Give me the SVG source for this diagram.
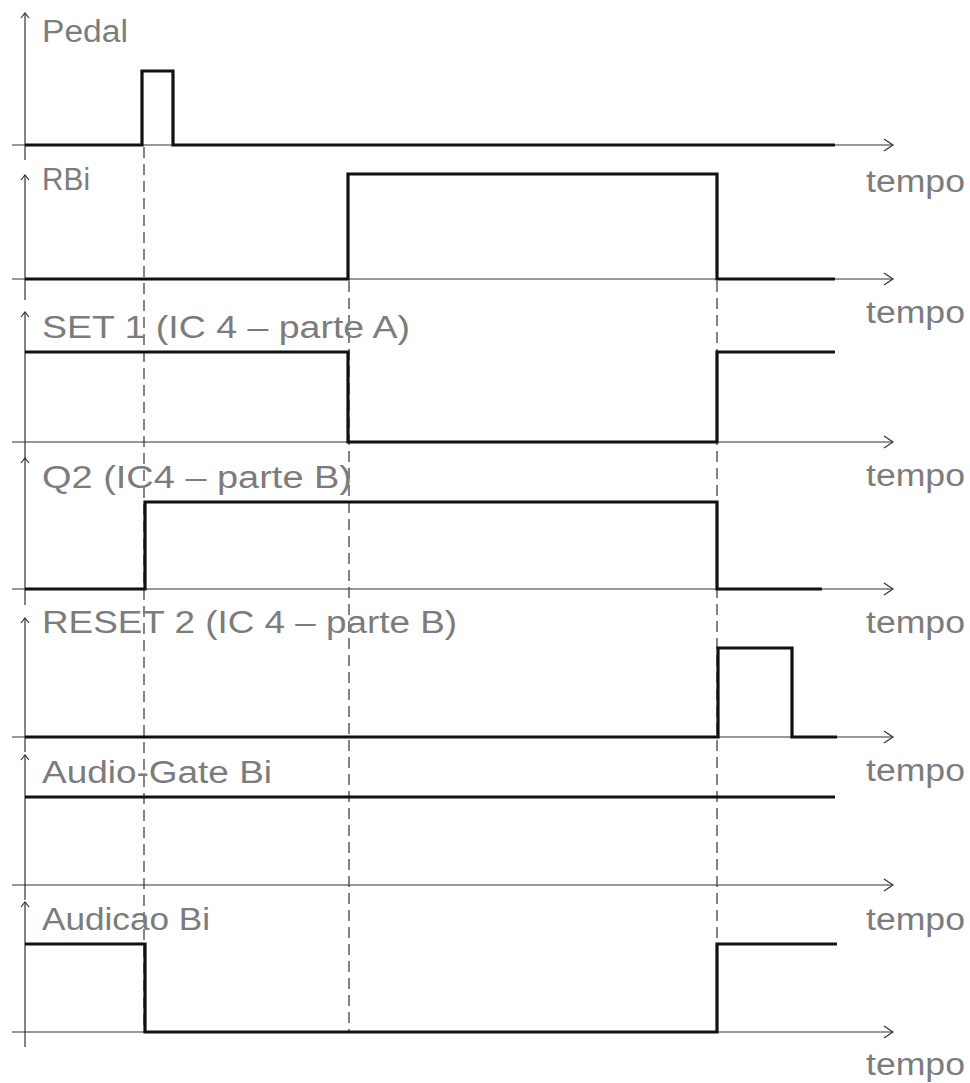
<svg xmlns="http://www.w3.org/2000/svg" width="970" height="1083" viewBox="0 0 970 1083">
<style>
.lbl{font-family:"Liberation Sans",Arial,sans-serif;font-size:31px;fill:#7c7c7c;}
.tm{font-family:"Liberation Sans",Arial,sans-serif;font-size:31px;fill:#7c7c7c;}
.ax{stroke:#333;stroke-width:1.2;fill:none;}
.sig{stroke:#111;stroke-width:3.2;fill:none;stroke-linejoin:miter;}
.dash{stroke:#333;stroke-width:1.2;stroke-dasharray:11 6;fill:none;}
</style>
<defs>
<marker id="ah" markerWidth="12" markerHeight="14" refX="10" refY="7" orient="auto" markerUnits="userSpaceOnUse">
<path d="M1,1 L10,7 L1,13" fill="none" stroke="#333" stroke-width="1.2"/>
</marker>
<marker id="av" markerWidth="10" markerHeight="8" refX="5" refY="1" orient="0" markerUnits="userSpaceOnUse">
<path d="M1,6 L5,1 L9,6" fill="none" stroke="#333" stroke-width="1.2"/>
</marker>
</defs>
<rect width="970" height="1083" fill="#fff"/>

<g id="connectors">
<line class="dash" x1="144" y1="147" x2="144" y2="1032"/>
<line class="dash" x1="349" y1="281" x2="349" y2="1032"/>
<line class="dash" x1="717" y1="281" x2="717" y2="1032"/>
</g>

<g id="pedal">
<line class="ax" x1="25" y1="160" x2="25" y2="13" marker-end="url(#av)"/>
<line class="ax" x1="12" y1="145" x2="893" y2="145" marker-end="url(#ah)"/>
<text class="lbl" x="42" y="42" textLength="86" lengthAdjust="spacingAndGlyphs">Pedal</text>
<polyline class="sig" points="25,145 142,145 142,71 173,71 173,145 835,145"/>
<text class="tm" x="866" y="192" textLength="99" lengthAdjust="spacingAndGlyphs">tempo</text>
</g>

<g id="rbi">
<line class="ax" x1="25" y1="300" x2="25" y2="175" marker-end="url(#av)"/>
<line class="ax" x1="12" y1="279" x2="893" y2="279" marker-end="url(#ah)"/>
<text class="lbl" x="42" y="190" textLength="48" lengthAdjust="spacingAndGlyphs">RBi</text>
<polyline class="sig" points="25,279 348,279 348,174 717,174 717,279 835,279"/>
<text class="tm" x="866" y="323" textLength="99" lengthAdjust="spacingAndGlyphs">tempo</text>
</g>

<g id="set1">
<line class="ax" x1="25" y1="460" x2="25" y2="312" marker-end="url(#av)"/>
<line class="ax" x1="12" y1="442" x2="893" y2="442" marker-end="url(#ah)"/>
<text class="lbl" x="42" y="338" textLength="368" lengthAdjust="spacingAndGlyphs">SET 1 (IC 4 – parte A)</text>
<polyline class="sig" points="25,352 348,352 348,442 717,442 717,352 835,352"/>
<text class="tm" x="866" y="486" textLength="99" lengthAdjust="spacingAndGlyphs">tempo</text>
</g>

<g id="q2">
<line class="ax" x1="25" y1="605" x2="25" y2="458" marker-end="url(#av)"/>
<line class="ax" x1="12" y1="589" x2="893" y2="589" marker-end="url(#ah)"/>
<text class="lbl" x="42" y="488" textLength="310" lengthAdjust="spacingAndGlyphs">Q2 (IC4 – parte B)</text>
<polyline class="sig" points="25,589 145,589 145,502 717,502 717,589 822,589"/>
<text class="tm" x="866" y="633" textLength="99" lengthAdjust="spacingAndGlyphs">tempo</text>
</g>

<g id="reset2">
<line class="ax" x1="25" y1="752" x2="25" y2="618" marker-end="url(#av)"/>
<line class="ax" x1="12" y1="737" x2="893" y2="737" marker-end="url(#ah)"/>
<text class="lbl" x="42" y="633" textLength="415" lengthAdjust="spacingAndGlyphs">RESET 2 (IC 4 – parte B)</text>
<polyline class="sig" points="25,737 718,737 718,648 792,648 792,737 837,737"/>
<text class="tm" x="866" y="781" textLength="99" lengthAdjust="spacingAndGlyphs">tempo</text>
</g>

<g id="audiogate">
<line class="ax" x1="25" y1="900" x2="25" y2="755" marker-end="url(#av)"/>
<line class="ax" x1="12" y1="885" x2="893" y2="885" marker-end="url(#ah)"/>
<text class="lbl" x="42" y="783" textLength="230" lengthAdjust="spacingAndGlyphs">Audio-Gate Bi</text>
<polyline class="sig" points="25,797 835,797"/>
<text class="tm" x="866" y="930" textLength="99" lengthAdjust="spacingAndGlyphs">tempo</text>
</g>

<g id="audicao">
<line class="ax" x1="25" y1="1047" x2="25" y2="902" marker-end="url(#av)"/>
<line class="ax" x1="12" y1="1032" x2="893" y2="1032" marker-end="url(#ah)"/>
<text class="lbl" x="42" y="930" textLength="168" lengthAdjust="spacingAndGlyphs">Audicao Bi</text>
<polyline class="sig" points="25,944 145,944 145,1032 717,1032 717,944 837,944"/>
<text class="tm" x="866" y="1075" textLength="99" lengthAdjust="spacingAndGlyphs">tempo</text>
</g>
</svg>
